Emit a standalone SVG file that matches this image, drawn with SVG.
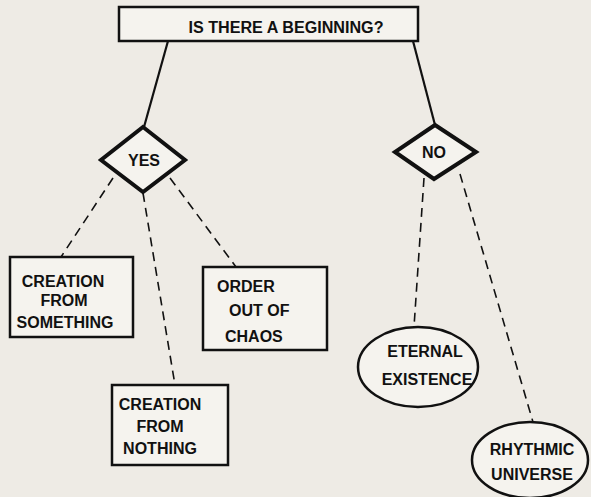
<svg xmlns="http://www.w3.org/2000/svg" width="591" height="497" viewBox="0 0 591 497">
<style>
.t{font-family:"Liberation Sans",Arial,sans-serif;font-weight:bold;font-size:16px;fill:#111;text-anchor:middle}
.box{fill:#f5f3ee;stroke:#111;stroke-width:2.5}
.dia{fill:#f5f3ee;stroke:#111;stroke-width:4;stroke-linejoin:miter}
.ell{fill:#f5f3ee;stroke:#111;stroke-width:2.5}
.solid{stroke:#111;stroke-width:2.2;fill:none}
.dash{stroke:#111;stroke-width:1.6;fill:none;stroke-dasharray:9 6}
</style>
<rect width="591" height="497" fill="#eeebe5"/>
<g id="connectors">
<line class="solid" x1="168" y1="41" x2="144" y2="127"/>
<line class="solid" x1="413" y1="41" x2="435" y2="125"/>
<line class="dash" x1="113" y1="178" x2="61" y2="257"/>
<line class="dash" x1="143" y1="193" x2="175" y2="385"/>
<line class="dash" x1="170" y1="178" x2="236" y2="267"/>
<line class="dash" x1="424" y1="178" x2="414" y2="327"/>
<line class="dash" x1="460" y1="174" x2="533" y2="422"/>
</g>
<g id="n-beginning">
<rect class="box" x="119" y="7" width="299" height="34"/>
<text class="t" x="286" y="33" font-size="17" textLength="195" lengthAdjust="spacingAndGlyphs">IS THERE A BEGINNING?</text>
</g>
<g id="n-yes">
<polygon class="dia" points="143,127 185,160 143,192 101,160"/>
<text class="t" x="144" y="166">YES</text>
</g>
<g id="n-no">
<polygon class="dia" points="435,125 476,152 434,179 395,152"/>
<text class="t" x="434" y="158">NO</text>
</g>
<g id="n-something">
<rect class="box" x="10" y="257" width="123" height="80"/>
<text class="t" x="63" y="287">CREATION</text>
<text class="t" x="64" y="306">FROM</text>
<text class="t" x="65" y="328">SOMETHING</text>
</g>
<g id="n-chaos">
<rect class="box" x="203" y="267" width="124" height="83"/>
<text class="t" x="217" y="292" style="text-anchor:start">ORDER</text>
<text class="t" x="229" y="316" style="text-anchor:start">OUT OF</text>
<text class="t" x="225" y="342" style="text-anchor:start">CHAOS</text>
</g>
<g id="n-nothing">
<rect class="box" x="112" y="385" width="116" height="80"/>
<text class="t" x="160" y="410">CREATION</text>
<text class="t" x="160" y="432">FROM</text>
<text class="t" x="160" y="454">NOTHING</text>
</g>
<g id="n-eternal">
<ellipse class="ell" cx="418" cy="367" rx="60" ry="40"/>
<text class="t" x="425" y="357">ETERNAL</text>
<text class="t" x="427" y="385">EXISTENCE</text>
</g>
<g id="n-rhythmic">
<ellipse class="ell" cx="530" cy="460" rx="58" ry="38"/>
<text class="t" x="532" y="455">RHYTHMIC</text>
<text class="t" x="532" y="480">UNIVERSE</text>
</g>
</svg>
